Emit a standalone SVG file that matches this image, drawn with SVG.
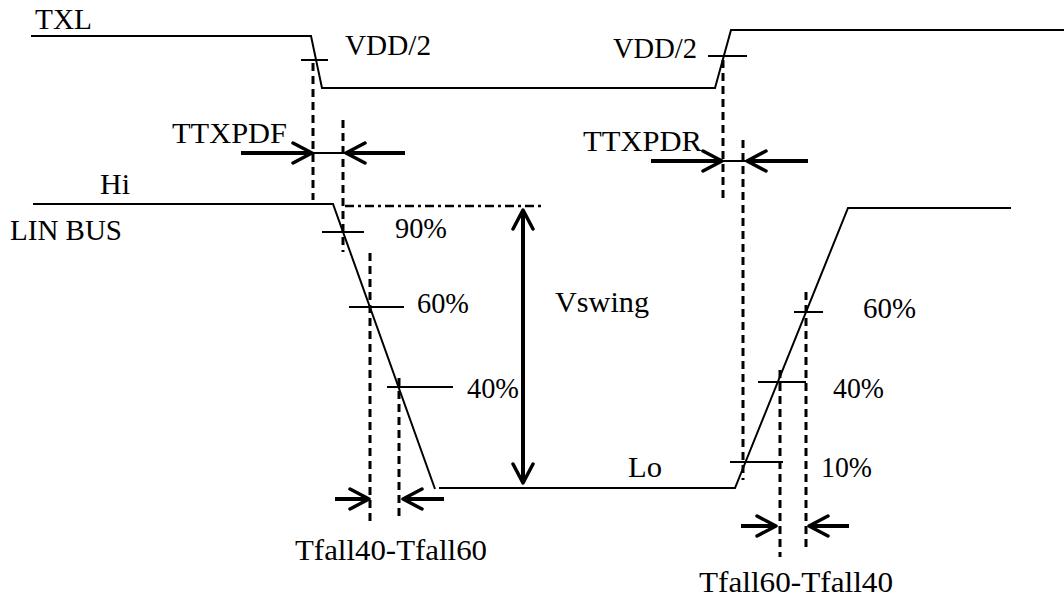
<svg xmlns="http://www.w3.org/2000/svg" width="1064" height="598" viewBox="0 0 1064 598">
<style>
.sig{fill:none;stroke:#000;stroke-width:2}
.tick{fill:none;stroke:#000;stroke-width:2}
.dash{fill:none;stroke:#000;stroke-width:3;stroke-dasharray:8 5}
.dd{fill:none;stroke:#000;stroke-width:2.5;stroke-dasharray:9 4 3 4}
.arr{fill:none;stroke:#000;stroke-width:4}
.thin{fill:none;stroke:#000;stroke-width:2}
text{font-family:"Liberation Serif","DejaVu Serif",serif;font-size:29px;fill:#000}
</style>
<defs>
<marker id="chev" viewBox="0 0 26 26" refX="21" refY="13" markerWidth="26" markerHeight="26" markerUnits="userSpaceOnUse" orient="auto">
<path d="M2,3 L21,13 L2,23" fill="none" stroke="#000" stroke-width="3.5" stroke-linecap="round" stroke-linejoin="round"/>
</marker>
</defs>
<rect width="1064" height="598" fill="#fff"/>

<g id="txl-signal">
<polyline class="sig" points="31,36 311,36 322,88 715,88 731,30 1064,30"/>
<line class="tick" x1="301" y1="60" x2="328" y2="60"/>
<line class="tick" x1="708" y1="56" x2="747" y2="56"/>
</g>

<g id="lin-signal">
<polyline class="sig" points="33,204 333,204 435,489"/>
<polyline class="sig" points="439,488 735,488 848,208 1011,208"/>
<line class="tick" x1="322" y1="232" x2="364" y2="232"/>
<line class="tick" x1="349" y1="307" x2="404" y2="307"/>
<line class="tick" x1="387" y1="387" x2="453" y2="387"/>
<line class="tick" x1="794" y1="312" x2="823" y2="312"/>
<line class="tick" x1="758" y1="382" x2="806" y2="382"/>
<line class="tick" x1="730" y1="462" x2="783" y2="462"/>
</g>

<g id="guides">
<line class="dash" x1="313" y1="63" x2="313" y2="200"/>
<line class="dash" x1="343" y1="120" x2="343" y2="252"/>
<line class="dash" x1="370" y1="253" x2="370" y2="521"/>
<line class="dash" x1="399" y1="378" x2="399" y2="521"/>
<line class="dash" x1="723" y1="60" x2="723" y2="200"/>
<line class="dash" x1="743" y1="140" x2="743" y2="480"/>
<line class="dash" x1="780" y1="370" x2="780" y2="557"/>
<line class="dash" x1="806" y1="292" x2="806" y2="552"/>
<line class="dd" x1="345" y1="206" x2="545" y2="206"/>
</g>

<g id="connectors">
<line class="arr" x1="241" y1="153" x2="312" y2="153" marker-end="url(#chev)"/>
<line class="thin" x1="313" y1="153" x2="345" y2="153"/>
<line class="arr" x1="405" y1="153" x2="346" y2="153" marker-end="url(#chev)"/>
<line class="arr" x1="651" y1="161" x2="722" y2="161" marker-end="url(#chev)"/>
<line class="thin" x1="723" y1="161" x2="746" y2="161"/>
<line class="arr" x1="808" y1="161" x2="747" y2="161" marker-end="url(#chev)"/>
<line class="arr" x1="523" y1="345" x2="523" y2="210" marker-end="url(#chev)"/>
<line class="arr" x1="523" y1="345" x2="523" y2="483" marker-end="url(#chev)"/>
<line class="arr" x1="335" y1="499" x2="369" y2="499" marker-end="url(#chev)"/>
<line class="arr" x1="444" y1="499" x2="403" y2="499" marker-end="url(#chev)"/>
<line class="arr" x1="741" y1="526" x2="776" y2="526" marker-end="url(#chev)"/>
<line class="arr" x1="849" y1="526" x2="809" y2="526" marker-end="url(#chev)"/>
</g>

<g id="labels">
<text x="35" y="29" textLength="57" lengthAdjust="spacingAndGlyphs">TXL</text>
<text x="345" y="55" textLength="86" lengthAdjust="spacingAndGlyphs">VDD/2</text>
<text x="613" y="58" textLength="84" lengthAdjust="spacingAndGlyphs">VDD/2</text>
<text x="172" y="143" textLength="115" lengthAdjust="spacingAndGlyphs">TTXPDF</text>
<text x="583" y="151" textLength="119" lengthAdjust="spacingAndGlyphs">TTXPDR</text>
<text x="100" y="194" textLength="30" lengthAdjust="spacingAndGlyphs">Hi</text>
<text x="10" y="240" textLength="112" lengthAdjust="spacingAndGlyphs">LIN BUS</text>
<text x="395" y="238" textLength="52" lengthAdjust="spacingAndGlyphs">90%</text>
<text x="417" y="313" textLength="52" lengthAdjust="spacingAndGlyphs">60%</text>
<text x="467" y="398" textLength="52" lengthAdjust="spacingAndGlyphs">40%</text>
<text x="555" y="312" textLength="94" lengthAdjust="spacingAndGlyphs">Vswing</text>
<text x="863" y="318" textLength="53" lengthAdjust="spacingAndGlyphs">60%</text>
<text x="833" y="398" textLength="51" lengthAdjust="spacingAndGlyphs">40%</text>
<text x="821" y="477" textLength="51" lengthAdjust="spacingAndGlyphs">10%</text>
<text x="628" y="477" textLength="34" lengthAdjust="spacingAndGlyphs">Lo</text>
<text x="295" y="560" textLength="192" lengthAdjust="spacingAndGlyphs">Tfall40-Tfall60</text>
<text x="699" y="592" textLength="194" lengthAdjust="spacingAndGlyphs">Tfall60-Tfall40</text>
</g>
</svg>
